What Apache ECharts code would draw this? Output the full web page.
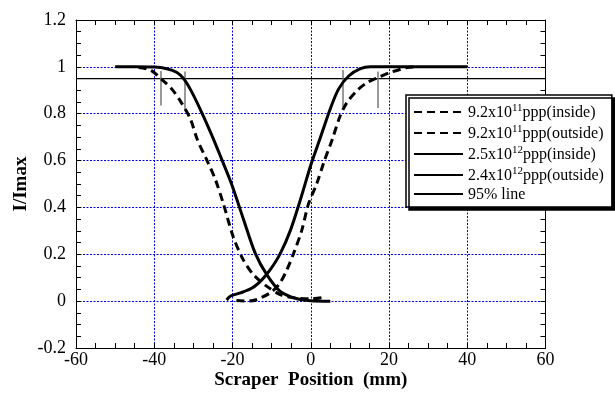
<!DOCTYPE html>
<html><head><meta charset="utf-8">
<script src="https://cdn.jsdelivr.net/npm/echarts@6/dist/echarts.min.js"></script>
<style>html,body{margin:0;padding:0;background:#fff}#c{width:615px;height:395px}</style>
</head><body><div id="c"></div>
<script>
// ---- data ----
var seriesNames = ['9.2x10^11ppp(inside)', '9.2x10^11ppp(outside)', '2.5x10^12ppp(inside)', '2.4x10^12ppp(outside)', '95% line'];
var dashedDesc = [[-44,0.997],[-41,0.987],[-38.1,0.947],[-35.5,0.905],[-33.4,0.856],[-30.8,0.779],[-29,0.69],[-26.5,0.6],[-24.4,0.52],[-22.3,0.414],[-19.8,0.274],[-17.2,0.175],[-14.6,0.112],[-11.2,0.063],[-7.8,0.028],[-4.4,0.014],[0,0.01],[4,0.018]];
var dashedAsc = [[-19,0.003],[-16,0.0],[-13.8,0.007],[-10.4,0.035],[-8.2,0.07],[-6.5,0.119],[-4.4,0.203],[-2.3,0.302],[-0.6,0.414],[1.5,0.5],[3.5,0.6],[5.5,0.69],[7.5,0.79],[9.3,0.849],[11.8,0.898],[14.4,0.933],[17.3,0.955],[20.3,0.976],[24.6,0.997],[27,1.0]];
var solidDesc = [[-50,1.0],[-45,1.0],[-40,0.999],[-36.8,0.992],[-34.2,0.976],[-32.5,0.95],[-30.8,0.905],[-28.3,0.821],[-25.3,0.709],[-22.7,0.603],[-20.2,0.498],[-17.2,0.35],[-14.2,0.205],[-11.2,0.112],[-7.8,0.042],[-3.5,0.01],[0,0.002],[5,0]];
var solidAsc = [[-21.5,0.005],[-20.5,0.022],[-18,0.035],[-15,0.056],[-12.5,0.091],[-10.4,0.133],[-7.8,0.203],[-5.2,0.302],[-2.7,0.43],[0,0.58],[2.4,0.695],[5,0.821],[7.1,0.905],[9.7,0.961],[12.7,0.992],[15.2,1.0],[40,1.0]];
var line95 = [[-60,0.95],[60,0.95]];
var markerX = [-38.3, -32.3, 8.2, 17.1];
var markerTop = [0.982, 0.98, 0.987, 0.98];
var markerBottom = [0.835, 0.811, 0.828, 0.824];
var xTicks = {min:-60, max:60, interval:20};
var yTicks = {min:-0.2, max:1.2, interval:0.2};

var FONT = '"Liberation Serif", "Times New Roman", serif';
var chart = echarts.init(document.getElementById('c'), null, {renderer:'canvas'});
var grid = {left:76, top:20, right:69.5, bottom:42.5};
var dashT = [8,5];
function curve(name, data, dashed) {
  return {name:name, type:'line', data:data, symbol:'none', showSymbol:false, smooth:0.3, xAxisIndex:0, yAxisIndex:0,
    color:'#000', itemStyle:{color:'#000'},
    lineStyle:{color:'#000', width:3, type: dashed ? dashT : 'solid'}, z:5};
}
var markLines = markerX.map(function(x,i){ return [{coord:[x, markerTop[i]]},{coord:[x, markerBottom[i]]}]; });
var splitBlue = {show:true, lineStyle:{color:'#0000ee', type:[2,1.5], width:1}};
var tickStyle = {show:true, inside:true, length:5, lineStyle:{color:'#000'}};
var minorStyle = {show:true, splitNumber:4, length:5, lineStyle:{color:'#000'}};
var option = {
  animation:false,
  backgroundColor:'#fff',
  grid: grid,
  legend: {
    orient:'vertical', left:406, top:95, padding:[8,8,4,7],
    itemWidth:49, itemHeight:14, itemGap:2,
    backgroundColor:'#fff', borderColor:'#000', borderWidth:1.5,
    shadowColor:'#000', shadowBlur:0, shadowOffsetX:3, shadowOffsetY:3,
    itemStyle:{opacity:0},
    data: seriesNames,
    textStyle:{fontFamily:FONT, fontSize:16, color:'#000',
      rich:{
        b:{fontFamily:FONT, fontSize:16, color:'#000', verticalAlign:'bottom', lineHeight:18},
        sup:{fontFamily:FONT, fontSize:11, color:'#000', verticalAlign:'top', lineHeight:12, padding:[0,0,8,0]}
      }},
    formatter: function(n){
      var m = n.match(/^(.*)\^(\d+)(.*)$/);
      if (!m) return '{b|' + n + '}';
      return '{b|' + m[1] + '}{sup|' + m[2] + '}{b|' + m[3] + '}';
    }
  },
  xAxis: [{
    type:'value', min:xTicks.min, max:xTicks.max, interval:xTicks.interval,
    name:'Scraper  Position  (mm)', nameLocation:'middle', nameGap:23, nameMoveOverlap:false,
    nameTextStyle:{fontFamily:FONT, fontSize:19, fontWeight:'bold', color:'#000'},
    axisLine:{show:true, onZero:false, lineStyle:{color:'#000', width:1}},
    axisTick:tickStyle, minorTick:minorStyle,
    axisLabel:{fontFamily:FONT, fontSize:18, color:'#000', margin:3},
    splitLine: splitBlue
  },{
    type:'value', position:'top', min:xTicks.min, max:xTicks.max, interval:xTicks.interval,
    axisLine:{show:true, onZero:false, lineStyle:{color:'#000', width:1}},
    axisTick:tickStyle, minorTick:minorStyle,
    axisLabel:{show:false}, splitLine:{show:false}
  }],
  yAxis: [{
    type:'value', min:yTicks.min, max:yTicks.max, interval:yTicks.interval,
    name:'I/Imax', nameLocation:'middle', nameGap:45, nameRotate:90, nameMoveOverlap:false,
    nameTextStyle:{fontFamily:FONT, fontSize:19, fontWeight:'bold', color:'#000'},
    axisLine:{show:true, onZero:false, lineStyle:{color:'#000', width:1}},
    axisTick:tickStyle, minorTick:minorStyle,
    axisLabel:{fontFamily:FONT, fontSize:18, color:'#000', margin:10},
    splitLine: splitBlue
  },{
    type:'value', position:'right', min:yTicks.min, max:yTicks.max, interval:yTicks.interval,
    axisLine:{show:true, onZero:false, lineStyle:{color:'#000', width:1}},
    axisTick:tickStyle, minorTick:minorStyle,
    axisLabel:{show:false}, splitLine:{show:false}
  }],
  series: [
    curve(seriesNames[0], dashedDesc, true),
    curve(seriesNames[1], dashedAsc, true),
    curve(seriesNames[2], solidDesc, false),
    curve(seriesNames[3], solidAsc, false),
    {name:seriesNames[4], type:'line', data:line95, symbol:'none', showSymbol:false, color:'#000', itemStyle:{color:'#000'},
     lineStyle:{color:'#000', width:1.2}, z:4,
     markLine:{silent:true, symbol:['none','none'], label:{show:false},
       lineStyle:{color:'#777', width:1.5, type:'solid'}, data:markLines}}
  ]
};
chart.setOption(option);
</script></body></html>
